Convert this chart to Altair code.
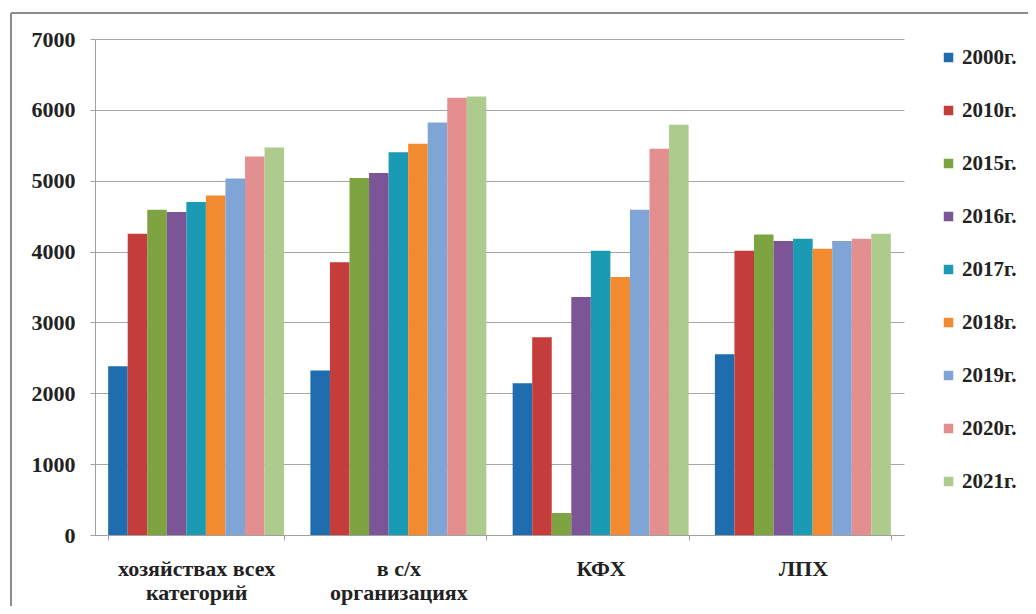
import altair as alt
import pandas as pd

categories = ["хозяйствах всех\nкатегорий", "в с/х\nорганизациях", "КФХ", "ЛПХ"]
years = ["2000г.", "2010г.", "2015г.", "2016г.", "2017г.", "2018г.", "2019г.", "2020г.", "2021г."]
colors = ["#1F6DAF", "#C53D3A", "#7DA440", "#7B5595", "#1A9AB3", "#F28A30", "#7EA5D5", "#E38F8F", "#AECB8E"]

v_all = [2380, 4250, 4590, 4560, 4700, 4790, 5030, 5340, 5470]
v_org = [2320, 3850, 5040, 5110, 5400, 5520, 5820, 6170, 6190]
v_kfh = [2140, 2790, 310, 3360, 4010, 3640, 4590, 5450, 5790]
v_lph = [2550, 4010, 4240, 4150, 4180, 4040, 4150, 4180, 4250]

rows = []
for cat, vals in zip(categories, [v_all, v_org, v_kfh, v_lph]):
    for y, v in zip(years, vals):
        rows.append({"cat": cat, "year": y, "value": v})
df = pd.DataFrame(rows)

FONT = "Liberation Serif"

bars = alt.Chart(df).mark_bar().encode(
    x=alt.X("cat:N", sort=categories, title=None,
            scale=alt.Scale(paddingInner=0.13, paddingOuter=0.065),
            axis=alt.Axis(labelAngle=0, labelExpr="split(datum.label, '\\n')",
                          labelFont=FONT, labelFontWeight="bold", labelFontSize=22,
                          labelColor="#222222", labelLineHeight=24, labelPadding=18,
                          tickBand="extent", ticks=True, tickSize=5, tickColor="#a0a0a0",
                          domainColor="#a0a0a0", grid=False)),
    xOffset=alt.XOffset("year:N", sort=years, scale=alt.Scale(paddingInner=0, paddingOuter=0)),
    y=alt.Y("value:Q", title=None,
            scale=alt.Scale(domain=[0, 7000]),
            axis=alt.Axis(values=[0, 1000, 2000, 3000, 4000, 5000, 6000, 7000], format="d",
                          labelFont=FONT, labelFontWeight="bold", labelFontSize=22,
                          labelColor="#222222", labelPadding=15, tickSize=5,
                          tickColor="#a0a0a0", domainColor="#a0a0a0",
                          gridColor="#a6a6a6", gridWidth=1)),
    color=alt.Color("year:N", sort=years, scale=alt.Scale(domain=years, range=colors),
                    legend=alt.Legend(title=None, orient="none", legendX=843, legendY=8,
                                      symbolType="square", symbolSize=90, symbolStrokeWidth=0,
                                      labelFont=FONT, labelFontWeight="bold", labelFontSize=21,
                                      labelColor="#222222", labelOffset=3, rowPadding=31,
                                      padding=0)),
)

frame_data = alt.Data(values=[{"a": 1}])
top_edge = alt.Chart(frame_data).mark_rule(color="#8c8c8c", strokeWidth=2).encode(
    x=alt.value(-84), x2=alt.value(940), y=alt.value(-26))
left_edge = alt.Chart(frame_data).mark_rule(color="#8c8c8c", strokeWidth=2).encode(
    x=alt.value(-84), y=alt.value(-26), y2=alt.value(575))

chart = alt.layer(bars, top_edge, left_edge).properties(
    width=809, height=496,
    autosize=alt.AutoSizeParams(type="none"),
    padding={"left": 87, "top": 31, "right": 124, "bottom": 71},
    background="white",
).configure_view(stroke=None)

chart.save("out.html", embed_options={"renderer": "svg", "actions": False})
